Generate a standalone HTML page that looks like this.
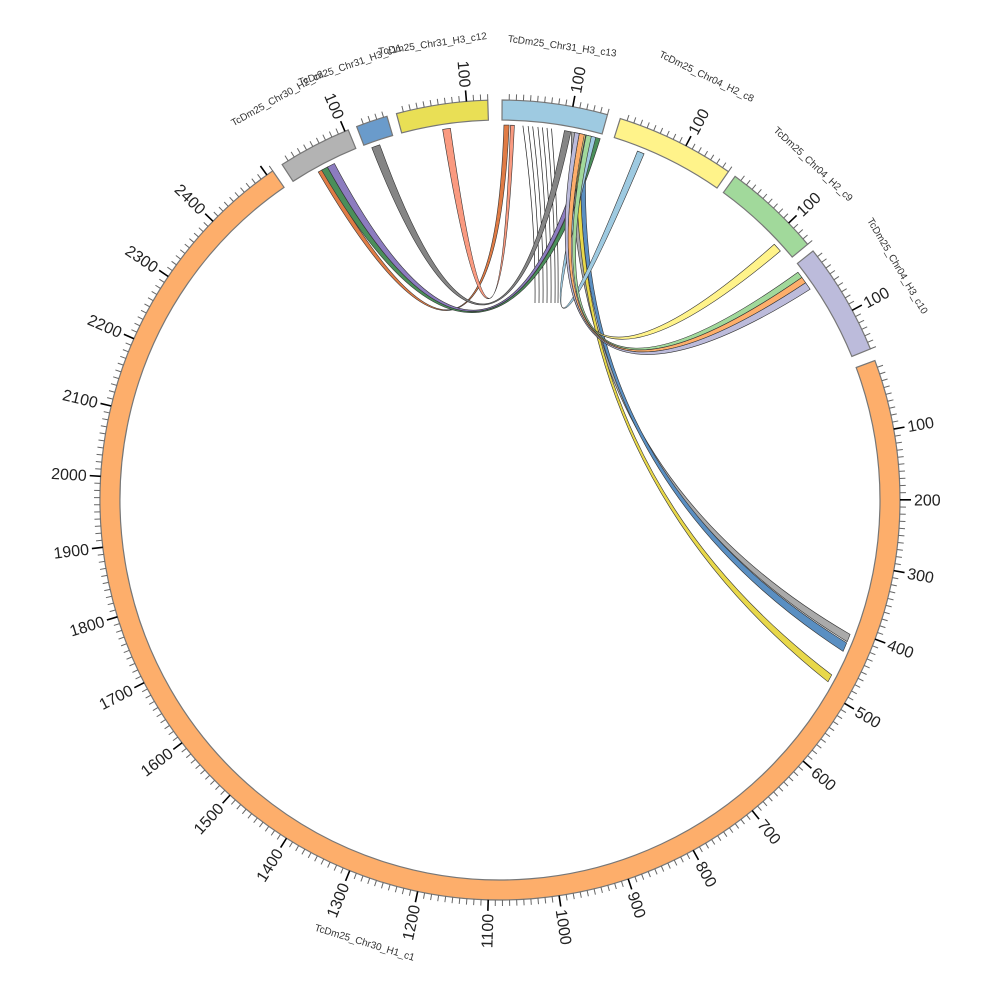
<!DOCTYPE html>
<html><head><meta charset="utf-8"><style>
html,body{margin:0;padding:0;background:#fff;}
svg{display:block;}
.tl{font-family:"Liberation Sans","DejaVu Sans",sans-serif;font-size:16px;fill:#222;}
.nl{font-family:"Liberation Sans","DejaVu Sans",sans-serif;font-size:10px;fill:#333;}
</style></head><body>
<svg id="s" width="1000" height="1000" viewBox="0 0 1000 1000" xmlns="http://www.w3.org/2000/svg">
<g id="links"></g>
<g id="segs"></g>
<g id="ticks"></g>
<g id="labels">
<text class="tl" dy="0.35em" transform="rotate(79.79,500,500) translate(500,86) rotate(-90)">100</text>
<text class="tl" dy="0.35em" transform="rotate(89.98,500,500) translate(500,86) rotate(-90)">200</text>
<text class="tl" dy="0.35em" transform="rotate(100.17,500,500) translate(500,86) rotate(-90)">300</text>
<text class="tl" dy="0.35em" transform="rotate(110.36,500,500) translate(500,86) rotate(-90)">400</text>
<text class="tl" dy="0.35em" transform="rotate(120.55,500,500) translate(500,86) rotate(-90)">500</text>
<text class="tl" dy="0.35em" transform="rotate(130.74,500,500) translate(500,86) rotate(-90)">600</text>
<text class="tl" dy="0.35em" transform="rotate(140.93,500,500) translate(500,86) rotate(-90)">700</text>
<text class="tl" dy="0.35em" transform="rotate(151.12,500,500) translate(500,86) rotate(-90)">800</text>
<text class="tl" dy="0.35em" transform="rotate(161.31,500,500) translate(500,86) rotate(-90)">900</text>
<text class="tl" dy="0.35em" transform="rotate(171.5,500,500) translate(500,86) rotate(-90)">1000</text>
<text class="tl" dy="0.35em" text-anchor="end" transform="rotate(181.69,500,500) translate(500,86) rotate(90)">1100</text>
<text class="tl" dy="0.35em" text-anchor="end" transform="rotate(191.88,500,500) translate(500,86) rotate(90)">1200</text>
<text class="tl" dy="0.35em" text-anchor="end" transform="rotate(202.07,500,500) translate(500,86) rotate(90)">1300</text>
<text class="tl" dy="0.35em" text-anchor="end" transform="rotate(212.26,500,500) translate(500,86) rotate(90)">1400</text>
<text class="tl" dy="0.35em" text-anchor="end" transform="rotate(222.45,500,500) translate(500,86) rotate(90)">1500</text>
<text class="tl" dy="0.35em" text-anchor="end" transform="rotate(232.64,500,500) translate(500,86) rotate(90)">1600</text>
<text class="tl" dy="0.35em" text-anchor="end" transform="rotate(242.83,500,500) translate(500,86) rotate(90)">1700</text>
<text class="tl" dy="0.35em" text-anchor="end" transform="rotate(253.02,500,500) translate(500,86) rotate(90)">1800</text>
<text class="tl" dy="0.35em" text-anchor="end" transform="rotate(263.21,500,500) translate(500,86) rotate(90)">1900</text>
<text class="tl" dy="0.35em" text-anchor="end" transform="rotate(273.4,500,500) translate(500,86) rotate(90)">2000</text>
<text class="tl" dy="0.35em" text-anchor="end" transform="rotate(283.59,500,500) translate(500,86) rotate(90)">2100</text>
<text class="tl" dy="0.35em" text-anchor="end" transform="rotate(293.78,500,500) translate(500,86) rotate(90)">2200</text>
<text class="tl" dy="0.35em" text-anchor="end" transform="rotate(303.97,500,500) translate(500,86) rotate(90)">2300</text>
<text class="tl" dy="0.35em" text-anchor="end" transform="rotate(314.16,500,500) translate(500,86) rotate(90)">2400</text>
<text class="tl" dy="0.35em" text-anchor="end" transform="rotate(337.2,500,500) translate(500,86) rotate(90)">100</text>
<text class="tl" dy="0.35em" text-anchor="end" transform="rotate(355.2,500,500) translate(500,86) rotate(90)">100</text>
<text class="tl" dy="0.35em" transform="rotate(10.5,500,500) translate(500,86) rotate(-90)">100</text>
<text class="tl" dy="0.35em" transform="rotate(27.7,500,500) translate(500,86) rotate(-90)">100</text>
<text class="tl" dy="0.35em" transform="rotate(46.2,500,500) translate(500,86) rotate(-90)">100</text>
<text class="tl" dy="0.35em" transform="rotate(61.7,500,500) translate(500,86) rotate(-90)">100</text>
<text class="nl" text-anchor="middle" transform="rotate(331,500,500) translate(500,44)">TcDm25_Chr30_H2_c2</text>
<text class="nl" text-anchor="middle" transform="rotate(341,500,500) translate(500,43)">TcDm25_Chr31_H3_c11</text>
<text class="nl" text-anchor="middle" transform="rotate(351.6,500,500) translate(500,42)">TcDm25_Chr31_H3_c12</text>
<text class="nl" text-anchor="middle" transform="rotate(7.8,500,500) translate(500,45)">TcDm25_Chr31_H3_c13</text>
<text class="nl" text-anchor="middle" transform="rotate(26,500,500) translate(500,32)">TcDm25_Chr04_H2_c8</text>
<text class="nl" text-anchor="middle" transform="rotate(43,500,500) translate(500,44)">TcDm25_Chr04_H2_c9</text>
<text class="nl" text-anchor="middle" transform="rotate(59.5,500,500) translate(500,42)">TcDm25_Chr04_H3_c10</text>
<text class="nl" text-anchor="middle" transform="rotate(197,500,500) translate(500,41) rotate(180)" dy="0.7em">TcDm25_Chr30_H1_c1</text>
</g>
</svg>
<script>
(function(){
var NS="http://www.w3.org/2000/svg",cx=500,cy=500,k=0.1019;
function pt(a,r){var t=a*Math.PI/180;return [cx+r*Math.sin(t),cy-r*Math.cos(t)];}
function P(p){return p[0].toFixed(2)+","+p[1].toFixed(2);}
function el(g,tag,attrs){var e=document.createElementNS(NS,tag);for(var n in attrs)e.setAttribute(n,attrs[n]);document.getElementById(g).appendChild(e);return e;}
var segs=[[69.6,2510,'#fdae6b'],[327,105,'#b3b3b3'],[339,45,'#6a9bcb'],[345,130,'#e9df55'],[0.3,150,'#9ecae1'],[17.5,170,'#fff38a'],[36,140,'#a1d99b'],[51.5,160,'#bcbbdb']];
segs.forEach(function(s){
  var a0=s[0],a1=s[0]+s[1]*k,lg=(a1-a0)>180?1:0;
  var d="M"+P(pt(a0,400))+" A400,400 0 "+lg+" 1 "+P(pt(a1,400))+" L"+P(pt(a1,380))+" A380,380 0 "+lg+" 0 "+P(pt(a0,380))+" Z";
  el("segs","path",{d:d,fill:s[2],stroke:"#777","stroke-width":1.2});
  for(var u=10;u<=s[1];u+=10){
    var a=a0+u*k,maj=(u%100==0);
    var p1=pt(a,400),p2=pt(a,maj?411:406);
    el("ticks","line",{x1:p1[0],y1:p1[1],x2:p2[0],y2:p2[1],stroke:maj?"#000":"#666","stroke-width":maj?1.6:1});
  }
});
function ctrl(a,b,r){var pa=pt(a,1),pb=pt(b,1);var vx=(pa[0]-cx)+(pb[0]-cx),vy=(pa[1]-cy)+(pb[1]-cy);var l=Math.sqrt(vx*vx+vy*vy)||1;return [cx+r*vx/l,cy+r*vy/l];}
function rib(s1,s2,t1,t2,col,cr){
  var c=ctrl((s1+s2)/2,(t1+t2)/2,cr||30),R=375;
  var d="M"+P(pt(s1,R))+" A375,375 0 0 1 "+P(pt(s2,R))+" Q"+P(c)+" "+P(pt(t1,R))+" A375,375 0 0 1 "+P(pt(t2,R))+" Q"+P(c)+" "+P(pt(s1,R))+" Z";
  el("links","path",{d:d,fill:col,stroke:"#333","stroke-width":0.6});
}
[[3.5,538],[4.3,542],[5,546],[5.8,550],[6.5,554],[7.2,558],[7.9,561]].forEach(function(q){
  var p=pt(q[0],375);el("links","path",{d:"M"+P(p)+" Q"+(q[1]-2)+",220 "+(q[1]-3)+",303",fill:"none",stroke:"#222","stroke-width":0.7});
});
rib(0.6,1.4,331,331.8,'#e07b45');
rib(351.2,352.4,1.6,2.2,'#fa9a80');
rib(340,341.3,9.9,10.9,'#858585');
rib(331.6,332.6,14.6,15.5,'#4a8f5a');
rib(332.6,333.8,13.6,14.5,'#8c7cbf');
rib(11,11.8,111,112.2,'#aaaaaa',70);
rib(12.6,13.5,112.4,113.8,'#5a8fc2',70);
rib(11.8,12.6,117.8,119,'#e8d84a',70);
rib(21.5,22.6,14,14.8,'#9ecae1');
rib(47,48.4,12.4,13.2,'#fff38a');
rib(52.6,53.6,13.3,14.1,'#a1d99b');
rib(53.6,54.6,12.2,13,'#fdae6b');
rib(54.6,55.8,11.5,12.2,'#bcbbdb');
})();
</script>
</body></html>
